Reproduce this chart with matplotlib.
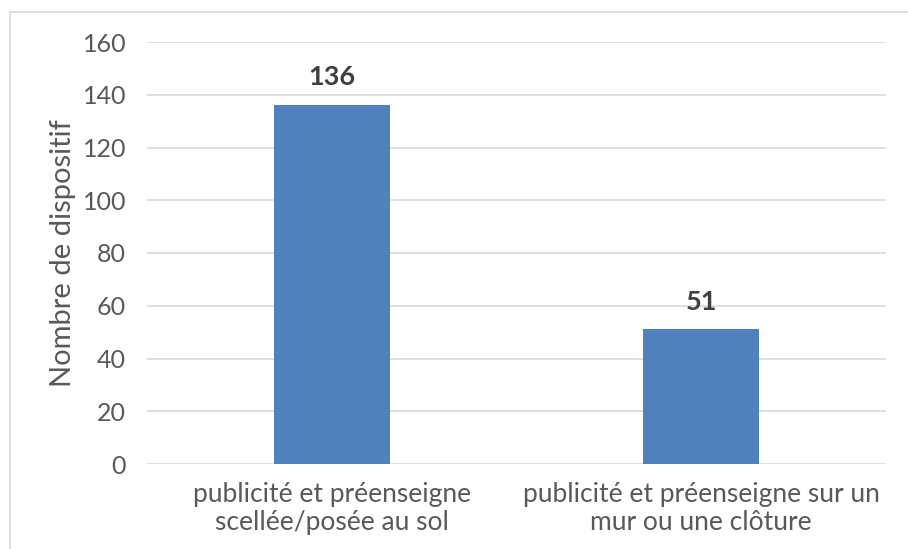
import matplotlib
matplotlib.use("Agg")
import matplotlib.pyplot as plt
from matplotlib.patches import Rectangle

categories = [
    "publicité et préenseigne\nscellée/posée au sol",
    "publicité et préenseigne sur un\nmur ou une clôture",
]
values = [136, 51]
yticks = [0, 20, 40, 60, 80, 100, 120, 140, 160]

plt.rcParams["font.family"] = ["Lato", "DejaVu Sans"]

fig = plt.figure(figsize=(9.08, 5.49), dpi=100)
ax = fig.add_axes([147 / 908, 1 - 464 / 549, 739 / 908, 422 / 549])

# outer chart frame (cut at right/bottom like the screenshot)
fig.patches.append(Rectangle((10 / 908, -0.1), 1.2, 1 - 12 / 549 + 0.1,
                             transform=fig.transFigure, fill=False,
                             edgecolor="#d9d9d9", linewidth=1.2))

x = range(len(categories))
bars = ax.bar(x, values, width=0.314, color="#4f81bd", zorder=3)
for b, v in zip(bars, values):
    ax.text(b.get_x() + b.get_width() / 2, v + 6, str(v), ha="center",
            va="bottom", fontsize=19.5, fontweight="bold", color="#404040")

ax.set_xlim(-0.5, 1.5)
ax.set_ylim(0, 160)
ax.set_yticks(yticks)
ax.set_xticks(list(x))
ax.set_xticklabels(categories, fontsize=19, color="#595959", linespacing=1.15)
ax.tick_params(axis="y", labelsize=18, labelcolor="#595959", length=0, pad=15)
ax.tick_params(axis="x", length=0, pad=13)
ax.grid(axis="y", color="#d9d9d9", linewidth=1.2, zorder=0)
for s in ax.spines.values():
    s.set_visible(False)
ax.set_ylabel("Nombre de dispositif", fontsize=21, color="#595959")
ax.yaxis.set_label_coords((63 - 147) / 739, 0.5)
ax.yaxis.label.set_verticalalignment("center")

fig.savefig("out.png", dpi=100)
